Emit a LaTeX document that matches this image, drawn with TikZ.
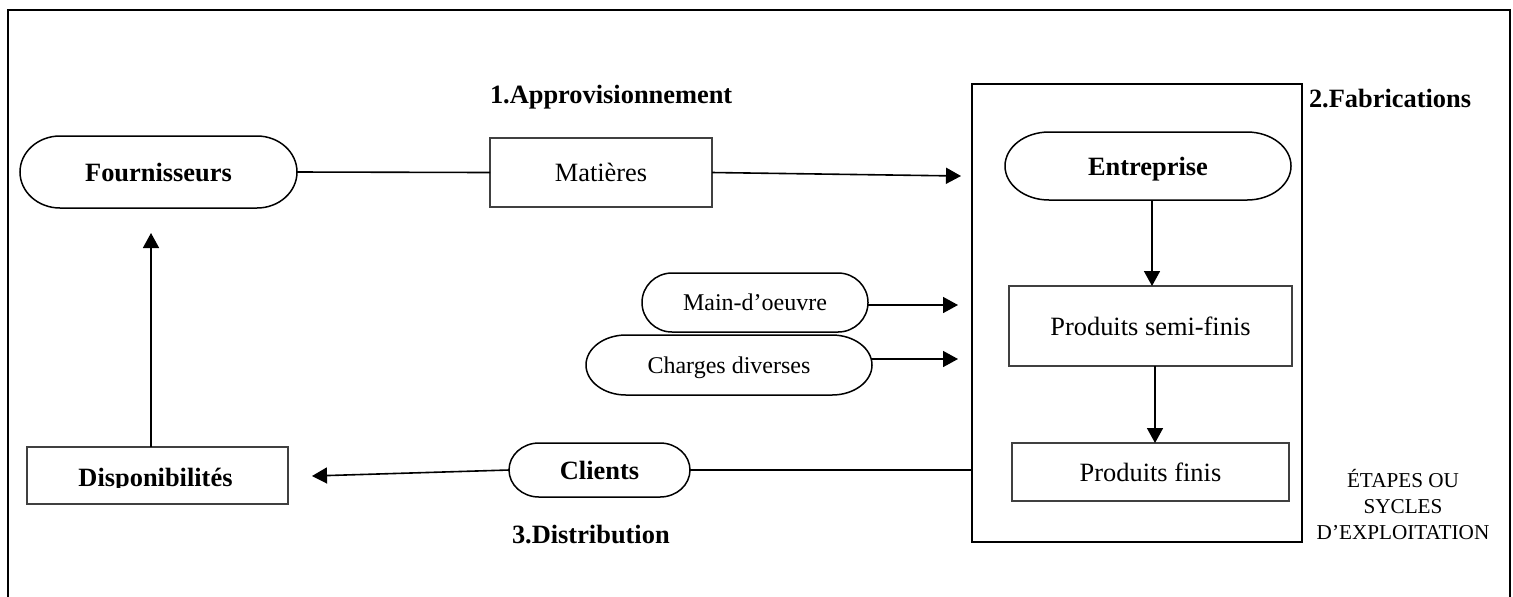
\documentclass[tikz,border=0pt]{standalone}
\usepackage{fontspec}
\setmainfont{Liberation Serif}
\usetikzlibrary{arrows.meta}

\tikzset{
  plain/.style={inner sep=0pt, outer sep=0pt},
  termtext/.style={plain, text depth=0pt, font=\fontsize{13.2}{15.8}\selectfont\bfseries},
  softtext/.style={plain, text depth=0pt, font=\fontsize{12}{14.4}\selectfont},
  box/.style={plain, text depth=0pt, draw=black!75, line width=0.55pt, font=\fontsize{13.2}{15.8}\selectfont},
  frame/.style={plain, draw, line width=0.8pt},
  outline/.style={line width=0.75pt},
  link/.style={line width=0.8pt},
  arrow/.style={link, -{Triangle[length=7.5pt,width=8pt]}},
  heading/.style={plain, anchor=base west, font=\fontsize{13.2}{15.8}\selectfont\bfseries},
}

% terminator outline (straight top/bottom, elliptic ends) around a node
% #1 node name, #2 horizontal radius of the ends, #3 half height
\newcommand\termoutline[3]{%
  \draw[outline] ([xshift=#2]#1.north west) -- ([xshift=-#2]#1.north east)
    arc[start angle=90, end angle=-90, x radius=#2, y radius=#3]
    -- ([xshift=#2]#1.south west)
    arc[start angle=270, end angle=90, x radius=#2, y radius=#3] -- cycle;}

\begin{document}
\begin{tikzpicture}[x=0.5pt, y=-0.5pt]
  \useasboundingbox (0,0) rectangle (1513,596);

  % outer frame, open at the bottom
  \draw[line width=1pt] (8,600) -- (8,10) -- (1510,10) -- (1510,600);

  % supply
  \node[termtext, minimum width=138.5pt, minimum height=36pt] (four) at (158.5,172) {Fournisseurs};
  \termoutline{four}{20pt}{18pt}
  \node[box, minimum width=111pt, minimum height=34.5pt] (mat) at (601,172.5) {Matières};
  \node[heading] (t1) at (490,103) {1.Approvisionnement};

  % manufacturing block
  \node[frame, minimum width=165pt, minimum height=229pt] (fab) at (1137,313) {};
  \node[heading] (t2) at (1309,107) {2.Fabrications};
  \node[termtext, minimum width=143pt, minimum height=34pt] (ent) at (1148,166) {Entreprise};
  \termoutline{ent}{22pt}{17pt}
  \node[box, minimum width=141.5pt, minimum height=40pt] (semi) at (1150.5,326) {Produits semi-finis};
  \node[box, minimum width=138.5pt, minimum height=29pt] (finis) at (1150.5,472) {Produits finis};

  % other inputs
  \node[softtext, minimum width=113pt, minimum height=29.5pt] (main) at (755,302.5) {Main-d’oeuvre};
  \termoutline{main}{15pt}{14.75pt}
  \node[softtext, minimum width=143pt, minimum height=30pt] (charges) at (729,365) {Charges diverses};
  \termoutline{charges}{20pt}{15pt}

  % distribution
  \node[termtext, minimum width=90.5pt, minimum height=27pt] (cli) at (599.5,470) {Clients};
  \termoutline{cli}{15pt}{13.5pt}
  \node[heading] (t3) at (512,543) {3.Distribution};
  \node[box, minimum width=130.5pt, minimum height=28.5pt] (dispo) at (157.5,475.5) {};
  \begin{scope}
    \clip (20,440) rectangle (300,487.5);
    \node[termtext, anchor=base] (dispolabel) at (155.5,486) {Disponibilités};
  \end{scope}

  % side note
  \node[plain, align=center, font=\fontsize{10.6}{13}\selectfont] (note) at (1403,504)
    {ÉTAPES OU\\SYCLES\\D’EXPLOITATION};

  % free ends of the arrows
  \coordinate (matin)  at (961,176);
  \coordinate (mainin) at (958,305);
  \coordinate (chin)   at (958,359);
  \coordinate (dispin) at (312,476);
  \coordinate (fourin) at (151,233);

  % connectors
  \draw[link]  (four.east) -- (mat.west);
  \draw[arrow] (mat.east) -- (matin);
  \draw[arrow] (main.east |- mainin) -- (mainin);
  \draw[arrow] (charges.east |- chin) -- (chin);
  \draw[arrow] ([xshift=2pt]ent.south) -- ([xshift=2pt]ent.south |- semi.north);
  \draw[arrow] ([xshift=2.25pt]semi.south) -- ([xshift=2.25pt]semi.south |- finis.north);
  \draw[link]  (fab.west |- cli.east) -- (cli.east);
  \draw[arrow] (cli.west) -- (dispin);
  \draw[arrow] (dispo.north -| fourin) -- (fourin);
\end{tikzpicture}
\end{document}
